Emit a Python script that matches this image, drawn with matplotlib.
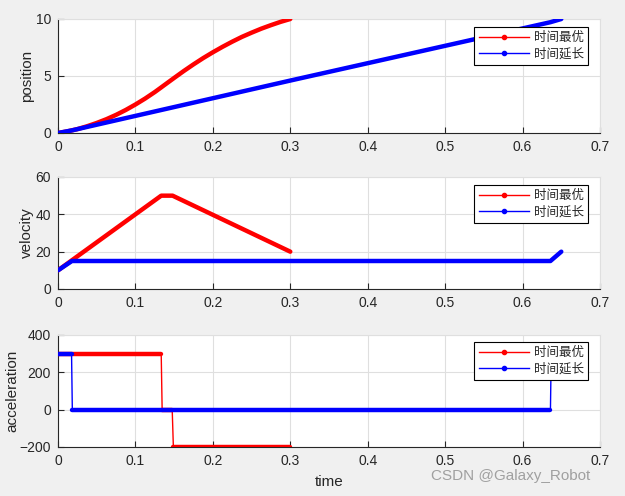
import matplotlib
matplotlib.use("Agg")
import matplotlib.pyplot as plt
from matplotlib.lines import Line2D

plt.rcParams['font.family'] = ['Liberation Sans', 'Noto Sans CJK SC', 'DejaVu Sans']

# ---- data ----
series_names = ["时间最优", "时间延长"]
colors = ["#ff0000", "#0000ff"]

# position
pos_t_opt = [0, 0.0125, 0.025, 0.0375, 0.05, 0.0625, 0.075, 0.0875, 0.1, 0.1125, 0.125,
             0.1333, 0.1375, 0.15, 0.1625, 0.175, 0.1875, 0.2, 0.2125, 0.225, 0.2375,
             0.25, 0.2625, 0.275, 0.2875, 0.3]
pos_opt = [0, 0.15, 0.34, 0.59, 0.88, 1.21, 1.59, 2.02, 2.5, 3.02, 3.59,
           4.0, 4.21, 4.83, 5.44, 6.02, 6.57, 7.08, 7.56, 8.01, 8.43,
           8.8, 9.15, 9.46, 9.75, 10.0]
pos_t_ext = [0, 0.018, 0.3, 0.636, 0.65]
pos_ext = [0, 0.23, 4.6, 9.72, 10.0]

# velocity
vel_t_opt = [0, 0.1333, 0.148, 0.3]
vel_opt = [10, 50, 50, 20]
vel_t_ext = [0, 0.018, 0.636, 0.65]
vel_ext = [10, 15, 15, 20]

# acceleration (step profiles)
acc_t_opt = [0, 0.1333, 0.1345, 0.1475, 0.149, 0.3]
acc_opt = [300, 300, 0, 0, -200, -200]
acc_t_ext = [0, 0.0175, 0.0185, 0.636, 0.637, 0.65]
acc_ext = [300, 300, 0, 0, 300, 300]

xticks = [0, 0.1, 0.2, 0.3, 0.4, 0.5, 0.6, 0.7]
xticklabels = ["0", "0.1", "0.2", "0.3", "0.4", "0.5", "0.6", "0.7"]

W, H = 625, 496
fig = plt.figure(figsize=(W / 100, H / 100), dpi=100, facecolor="#f0f0f0")

def ax_at(left, top, right, bottom):
    return fig.add_axes([left / W, 1 - bottom / H, (right - left) / W, (bottom - top) / H])

ax1 = ax_at(58, 19, 600, 133)
ax2 = ax_at(58, 177, 600, 289)
ax3 = ax_at(58, 335, 600, 447)

dark = "#262626"
grid_c = "#dfdfdf"

def style(ax, ylim, yticks, ylabel, labelpad):
    ax.set_facecolor("white")
    ax.set_xlim(0, 0.7)
    ax.set_ylim(*ylim)
    ax.set_xticks(xticks)
    ax.set_xticklabels(xticklabels)
    ax.set_yticks(yticks)
    ax.grid(True, color=grid_c, linewidth=0.8)
    ax.set_axisbelow(True)
    for s in ["top", "right"]:
        ax.spines[s].set_color(grid_c)
        ax.spines[s].set_linewidth(0.8)
    for s in ["left", "bottom"]:
        ax.spines[s].set_color(dark)
        ax.spines[s].set_linewidth(0.8)
    ax.tick_params(direction="in", length=4, width=0.8, color=dark, labelcolor=dark,
                   labelsize=10, top=False, right=False, pad=5)
    ax.set_ylabel(ylabel, fontsize=11, color=dark, labelpad=labelpad)

def plot_thick(ax, t, y, c):
    ax.plot(t, y, color=c, lw=3.2, solid_capstyle="round", zorder=3)

def plot_step(ax, t, y, c):
    ax.plot(t, y, color=c, lw=1.0, zorder=3)
    for i in range(len(t) - 1):
        if y[i] == y[i + 1]:
            ax.plot(t[i:i + 2], y[i:i + 2], color=c, lw=3.2, solid_capstyle="round", zorder=3)

plot_thick(ax1, pos_t_opt, pos_opt, colors[0])
plot_thick(ax1, pos_t_ext, pos_ext, colors[1])
plot_thick(ax2, vel_t_opt, vel_opt, colors[0])
plot_thick(ax2, vel_t_ext, vel_ext, colors[1])
plot_step(ax3, acc_t_opt, acc_opt, colors[0])
plot_step(ax3, acc_t_ext, acc_ext, colors[1])

style(ax1, (0, 10), [0, 5, 10], "position", 1)
style(ax2, (0, 60), [0, 20, 40, 60], "velocity", 1)
style(ax3, (-200, 400), [-200, 0, 200, 400], "acceleration", 0)
ax3.set_xlabel("time", fontsize=11, color=dark, labelpad=5)

handles = [Line2D([0], [0], color=c, lw=1.0, marker=".", markersize=6) for c in colors]

def add_legend(ax, top_px, ax_top, ax_h):
    y = 1 - (top_px - ax_top) / ax_h
    leg = ax.legend(handles, series_names, loc="upper right",
                    bbox_to_anchor=(1 - 12 / 542, y), borderaxespad=0,
                    fancybox=False, framealpha=1, edgecolor="black",
                    prop={"family": ["Noto Sans CJK SC"], "size": 9},
                    handlelength=4.0, handletextpad=0.4, borderpad=0.35,
                    labelspacing=0.25)
    leg.get_frame().set_linewidth(0.8)
    for t in leg.get_texts():
        t.set_color(dark)

add_legend(ax1, 27, 19, 114)
add_legend(ax2, 185, 177, 112)
add_legend(ax3, 342, 335, 112)

fig.text(590 / W, 1 - 476 / H, "CSDN @Galaxy_Robot", ha="right", va="center",
         fontsize=11, color="#a0a0a0")

fig.savefig("out.png", dpi=100, facecolor=fig.get_facecolor())
